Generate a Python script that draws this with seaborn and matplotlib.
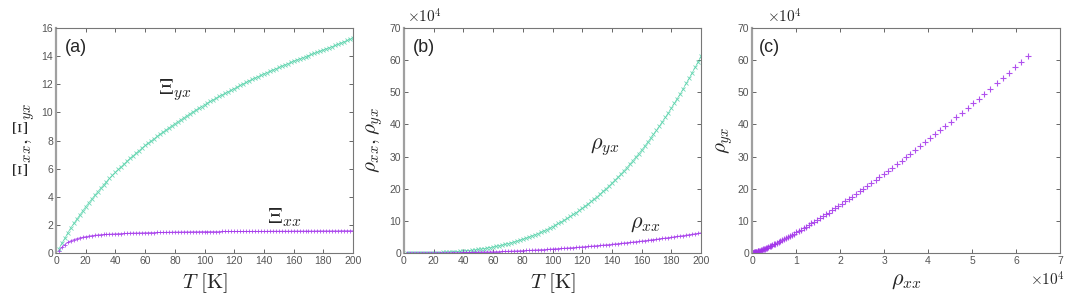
import numpy as np
import matplotlib
matplotlib.use("Agg")
import matplotlib.pyplot as plt
import seaborn as sns

# temperature grid [K]
T = np.arange(2, 201, 2)

# Xi_xx and Xi_yx (panel a)
xi_xx = [0.15, 0.4, 0.6, 0.75, 0.87, 0.95, 1.02, 1.08, 1.12, 1.16,
         1.2, 1.23, 1.26, 1.28, 1.3, 1.32, 1.33, 1.34, 1.35, 1.36,
         1.37, 1.38, 1.39, 1.4, 1.41, 1.42, 1.42, 1.43, 1.43, 1.44,
         1.44, 1.45, 1.45, 1.46, 1.46, 1.47, 1.47, 1.48, 1.48, 1.49,
         1.49, 1.49, 1.5, 1.5, 1.5, 1.51, 1.51, 1.51, 1.52, 1.52,
         1.52, 1.52, 1.52, 1.52, 1.52, 1.53, 1.53, 1.53, 1.53, 1.53,
         1.53, 1.53, 1.53, 1.54, 1.54, 1.54, 1.54, 1.54, 1.54, 1.54,
         1.54, 1.55, 1.55, 1.55, 1.55, 1.55, 1.55, 1.55, 1.55, 1.56,
         1.56, 1.56, 1.56, 1.56, 1.56, 1.56, 1.56, 1.57, 1.57, 1.57,
         1.57, 1.57, 1.57, 1.57, 1.57, 1.58, 1.58, 1.58, 1.58, 1.58]
xi_yx = [0.3, 0.7, 1.05, 1.45, 1.8, 2.1, 2.4, 2.7, 3.0, 3.3,
         3.57, 3.83, 4.09, 4.35, 4.6, 4.84, 5.07, 5.3, 5.53, 5.75,
         5.95, 6.15, 6.35, 6.55, 6.75, 6.93, 7.11, 7.29, 7.47, 7.65,
         7.81, 7.97, 8.13, 8.29, 8.45, 8.6, 8.75, 8.9, 9.05, 9.2,
         9.34, 9.48, 9.62, 9.76, 9.9, 10.03, 10.16, 10.29, 10.42, 10.55,
         10.67, 10.79, 10.91, 11.03, 11.15, 11.26, 11.37, 11.48, 11.59, 11.7,
         11.81, 11.92, 12.03, 12.14, 12.25, 12.35, 12.45, 12.55, 12.65, 12.75,
         12.84, 12.93, 13.02, 13.11, 13.2, 13.29, 13.38, 13.47, 13.56, 13.65,
         13.73, 13.81, 13.89, 13.97, 14.05, 14.13, 14.21, 14.29, 14.37, 14.45,
         14.53, 14.61, 14.69, 14.77, 14.85, 14.94, 15.03, 15.12, 15.21, 15.3]

# rho_xx and rho_yx in units of 1e4 (panels b, c)
rho_xx = [0.0001, 0.0006, 0.0017, 0.0032, 0.0055, 0.0084, 0.0121, 0.0166, 0.0219, 0.028,
          0.0351, 0.043, 0.0519, 0.0618, 0.0727, 0.0844, 0.0975, 0.1115, 0.1266, 0.143,
          0.1601, 0.1787, 0.1981, 0.2194, 0.2415, 0.2647, 0.2894, 0.3147, 0.342, 0.3705,
          0.4001, 0.4313, 0.463, 0.4966, 0.5315, 0.5678, 0.6065, 0.6447, 0.6852, 0.7283,
          0.7711, 0.8155, 0.8633, 0.9112, 0.9589, 1.010, 1.064, 1.117, 1.174, 1.230,
          1.289, 1.349, 1.411, 1.474, 1.539, 1.605, 1.674, 1.742, 1.813, 1.887,
          1.964, 2.040, 2.117, 2.199, 2.277, 2.358, 2.450, 2.532, 2.622, 2.710,
          2.807, 2.895, 2.992, 3.093, 3.187, 3.294, 3.397, 3.501, 3.600, 3.714,
          3.819, 3.939, 4.051, 4.166, 4.276, 4.397, 4.522, 4.641, 4.763, 4.899,
          5.028, 5.160, 5.281, 5.419, 5.562, 5.697, 5.842, 5.984, 6.123, 6.271]
rho_yx = [0.0001, 0.0007, 0.0023, 0.0054, 0.0103, 0.0175, 0.0274, 0.0403, 0.0568, 0.0769,
          0.1017, 0.1308, 0.165, 0.2045, 0.2498, 0.3006, 0.3588, 0.4232, 0.4951, 0.5758,
          0.6617, 0.7581, 0.8616, 0.9763, 1.0997, 1.231, 1.374, 1.525, 1.689, 1.863,
          2.050, 2.250, 2.455, 2.678, 2.912, 3.158, 3.425, 3.695, 3.983, 4.297,
          4.605, 4.938, 5.291, 5.658, 6.032, 6.430, 6.848, 7.279, 7.737, 8.199,
          8.689, 9.180, 9.699, 10.26, 10.80, 11.38, 11.99, 12.59, 13.24, 13.90,
          14.60, 15.30, 16.02, 16.79, 17.53, 18.32, 19.18, 19.98, 20.86, 21.74,
          22.69, 23.57, 24.53, 25.56, 26.55, 27.63, 28.70, 29.81, 30.87, 32.04,
          33.18, 34.47, 35.69, 36.93, 38.13, 39.49, 40.89, 42.22, 43.60, 45.11,
          46.57, 48.08, 49.50, 51.10, 52.77, 54.32, 56.09, 57.74, 59.45, 61.21]

purple = "#a233ea"
teal = "#56d2aa"

sns.set_style("white")
plt.rcParams["font.family"] = ["Liberation Sans", "DejaVu Sans"]
plt.rcParams["mathtext.fontset"] = "cm"

fig = plt.figure(figsize=(10.79, 2.99), dpi=100)
ax_a = fig.add_axes([0.0519, 0.154, 0.2753, 0.752])
ax_b = fig.add_axes([0.3744, 0.154, 0.2753, 0.752])
ax_c = fig.add_axes([0.697, 0.154, 0.2854, 0.752])


def style(ax):
    ax.tick_params(direction="in", length=3, width=0.7, colors="#666666",
                   labelsize=7.5, labelcolor="#555555",
                   top=True, right=True, bottom=True, left=True, pad=2)
    for s in ["top", "right", "bottom"]:
        ax.spines[s].set_color("#777777")
        ax.spines[s].set_linewidth(0.8)
    ax.spines["left"].set_color("#a0a0a0")
    ax.spines["left"].set_linewidth(1.6)


def line(ax, y, color, mk):
    sns.lineplot(x=T, y=y, ax=ax, color=color, marker=mk, markersize=3,
                 markeredgecolor=color, markeredgewidth=0.6, linewidth=0.5,
                 alpha=0.85, estimator=None, sort=False)


# (a)
line(ax_a, xi_yx, teal, "x")
line(ax_a, xi_xx, purple, "+")
ax_a.set_xlim(0, 200)
ax_a.set_ylim(0, 16)
ax_a.set_xticks(range(0, 201, 20))
ax_a.set_yticks(range(0, 17, 2))
ax_a.set_xlabel(r"$T\ [\mathrm{K}]$", fontsize=15, labelpad=4)
ax_a.set_ylabel(r"$\Xi_{xx}, \Xi_{yx}$", fontsize=15, labelpad=3)
ax_a.text(69, 11.6, r"$\Xi_{yx}$", fontsize=16, va="center")
ax_a.text(142, 2.5, r"$\Xi_{xx}$", fontsize=16, va="center")
ax_a.text(6, 14.6, "(a)", fontsize=13, va="center")
style(ax_a)

# (b)
line(ax_b, rho_yx, teal, "x")
line(ax_b, rho_xx, purple, "+")
ax_b.set_xlim(0, 200)
ax_b.set_ylim(0, 70)
ax_b.set_xticks(range(0, 201, 20))
ax_b.set_yticks(range(0, 71, 10))
ax_b.set_xlabel(r"$T\ [\mathrm{K}]$", fontsize=15, labelpad=4)
ax_b.set_ylabel(r"$\rho_{xx}, \rho_{yx}$", fontsize=15, labelpad=3)
ax_b.text(125, 33, r"$\rho_{yx}$", fontsize=16, va="center")
ax_b.text(152, 9.3, r"$\rho_{xx}$", fontsize=16, va="center")
ax_b.text(6, 64, "(b)", fontsize=13, va="center")
ax_b.text(0.01, 1.01, r"$\times10^4$", transform=ax_b.transAxes, fontsize=11, va="bottom")
style(ax_b)

# (c)
sns.scatterplot(x=rho_xx, y=rho_yx, ax=ax_c, color=purple, marker="+", s=16,
                linewidth=0.8, alpha=0.85)
ax_c.set_xlim(0, 7)
ax_c.set_ylim(0, 70)
ax_c.set_xticks(range(0, 8))
ax_c.set_yticks(range(0, 71, 10))
ax_c.set_xlabel(r"$\rho_{xx}$", fontsize=16, labelpad=3)
ax_c.set_ylabel(r"$\rho_{yx}$", fontsize=15, labelpad=2)
ax_c.text(0.15, 64, "(c)", fontsize=13, va="center")
ax_c.text(0.05, 1.01, r"$\times10^4$", transform=ax_c.transAxes, fontsize=11, va="bottom")
fig.text(0.955, 0.064, r"$\times10^4$", fontsize=11, va="center", ha="left")
style(ax_c)

fig.savefig("out.png", dpi=100)
